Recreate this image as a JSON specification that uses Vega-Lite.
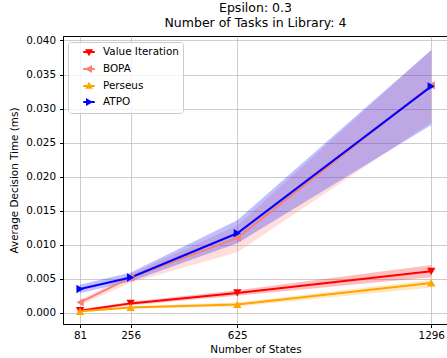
{
  "$schema": "https://vega.github.io/schema/vega-lite/v6.json",
  "width": 385,
  "height": 288,
  "autosize": {"type": "none"},
  "padding": {"left": 63, "top": 36, "right": 0, "bottom": 34},
  "background": "white",
  "config": {
    "font": "DejaVu Sans",
    "view": {"stroke": "black", "strokeWidth": 1},
    "axis": {
      "labelFont": "DejaVu Sans", "labelFontSize": 10.4, "labelColor": "black",
      "titleFont": "DejaVu Sans", "titleFontSize": 10.4, "titleFontWeight": "normal", "titleColor": "black",
      "tickColor": "black", "tickSize": 3.5, "domainColor": "black",
      "gridColor": "#b0b0b0", "gridOpacity": 0.8, "gridWidth": 0.8
    }
  },
  "title": {
    "text": ["Epsilon: 0.3", "Number of Tasks in Library: 4"],
    "font": "DejaVu Sans", "fontSize": 12.5, "fontWeight": "normal", "color": "black",
    "anchor": "middle", "lineHeight": 14.5, "offset": 6
  },
  "data": {"values": [
    {"method": "Value Iteration", "states": 81, "mean": 0.0003, "lo": 0.0001, "hi": 0.0005},
    {"method": "Value Iteration", "states": 256, "mean": 0.00137, "lo": 0.0011, "hi": 0.0016},
    {"method": "Value Iteration", "states": 625, "mean": 0.0029, "lo": 0.0025, "hi": 0.0033},
    {"method": "Value Iteration", "states": 1296, "mean": 0.00608, "lo": 0.0052, "hi": 0.0070},
    {"method": "BOPA", "states": 81, "mean": 0.00152, "lo": 0.0011, "hi": 0.0019},
    {"method": "BOPA", "states": 256, "mean": 0.00515, "lo": 0.0044, "hi": 0.0057},
    {"method": "BOPA", "states": 625, "mean": 0.0110, "lo": 0.0089, "hi": 0.0128},
    {"method": "BOPA", "states": 1296, "mean": 0.0334, "lo": 0.0280, "hi": 0.0386},
    {"method": "Perseus", "states": 81, "mean": 0.0002, "lo": 0.0001, "hi": 0.0003},
    {"method": "Perseus", "states": 256, "mean": 0.00078, "lo": 0.0006, "hi": 0.0010},
    {"method": "Perseus", "states": 625, "mean": 0.00122, "lo": 0.0009, "hi": 0.0015},
    {"method": "Perseus", "states": 1296, "mean": 0.00437, "lo": 0.0037, "hi": 0.0048},
    {"method": "ATPO", "states": 81, "mean": 0.00349, "lo": 0.0029, "hi": 0.0041},
    {"method": "ATPO", "states": 256, "mean": 0.00518, "lo": 0.0046, "hi": 0.0059},
    {"method": "ATPO", "states": 625, "mean": 0.01167, "lo": 0.0102, "hi": 0.0136},
    {"method": "ATPO", "states": 1296, "mean": 0.03326, "lo": 0.0276, "hi": 0.0386}
  ]},
  "encoding": {
    "x": {
      "field": "states", "type": "quantitative",
      "scale": {"domain": [22, 1354], "nice": false, "zero": false},
      "axis": {"values": [81, 256, 625, 1296], "format": "d", "title": "Number of States", "labelPadding": 3, "titlePadding": 4}
    },
    "y": {
      "field": "mean", "type": "quantitative",
      "scale": {"domain": [-0.00166, 0.04066], "nice": false, "zero": false},
      "axis": {"title": "Average Decision Time (ms)", "values": [0, 0.005, 0.01, 0.015, 0.02, 0.025, 0.03, 0.035, 0.04], "format": ".3f", "labelPadding": 4, "titlePadding": 6, "labelOverlap": false}
    },
    "color": {
      "field": "method", "type": "nominal",
      "scale": {"domain": ["Value Iteration", "BOPA", "Perseus", "ATPO"], "range": ["#ff0000", "#fa8072", "#ffa500", "#0000ff"]},
      "legend": {
        "title": null, "orient": "none", "legendX": 5, "legendY": 6,
        "padding": 4, "fillColor": "rgba(255,255,255,0.8)", "strokeColor": "#cccccc", "cornerRadius": 3,
        "labelFont": "DejaVu Sans", "labelFontSize": 10.4, "labelColor": "black",
        "symbolSize": 100, "symbolOffset": 11, "labelOffset": 8, "rowPadding": 3,
        "encode": {
          "symbols": {
            "update": {
              "shape": {"signal": "datum.value === 'Value Iteration' ? 'M-1.15,0H1.15M-0.45,-0.35H0.45L0,0.45Z' : datum.value === 'BOPA' ? 'M-1.15,0H1.15M-0.4,0L0.4,-0.45V0.45Z' : datum.value === 'Perseus' ? 'M-1.15,0H1.15M-0.45,0.35H0.45L0,-0.45Z' : 'M-1.15,0H1.15M0.4,0L-0.4,-0.45V0.45Z'"},
              "fill": {"signal": "datum.value === 'Value Iteration' ? '#ff0000' : datum.value === 'BOPA' ? '#fa8072' : datum.value === 'Perseus' ? '#ffa500' : '#0000ff'"},
              "stroke": {"signal": "datum.value === 'Value Iteration' ? '#ff0000' : datum.value === 'BOPA' ? '#fa8072' : datum.value === 'Perseus' ? '#ffa500' : '#0000ff'"},
              "strokeWidth": {"value": 2},
              "opacity": {"value": 1},
              "fillOpacity": {"value": 1},
              "strokeOpacity": {"value": 1}
            }
          }
        }
      }
    }
  },
  "layer": [
    {
      "mark": {"type": "area", "opacity": 0.25},
      "encoding": {
        "y": {
          "field": "lo", "type": "quantitative",
          "scale": {"domain": [-0.00166, 0.04066], "nice": false, "zero": false},
          "axis": {"title": "Average Decision Time (ms)", "values": [0, 0.005, 0.01, 0.015, 0.02, 0.025, 0.03, 0.035, 0.04], "format": ".3f", "labelPadding": 4, "titlePadding": 6, "labelOverlap": false}
        },
        "y2": {"field": "hi"}
      }
    },
    {
      "mark": {"type": "line", "strokeWidth": 2}
    },
    {
      "transform": [{"filter": "datum.method === 'Value Iteration'"}],
      "mark": {"type": "point", "filled": true, "opacity": 1, "size": 70, "shape": "triangle-down"}
    },
    {
      "transform": [{"filter": "datum.method === 'BOPA'"}],
      "mark": {"type": "point", "filled": true, "opacity": 1, "size": 70, "shape": "triangle-left"}
    },
    {
      "transform": [{"filter": "datum.method === 'Perseus'"}],
      "mark": {"type": "point", "filled": true, "opacity": 1, "size": 70, "shape": "triangle-up"}
    },
    {
      "transform": [{"filter": "datum.method === 'ATPO'"}],
      "mark": {"type": "point", "filled": true, "opacity": 1, "size": 70, "shape": "triangle-right"}
    }
  ]
}
